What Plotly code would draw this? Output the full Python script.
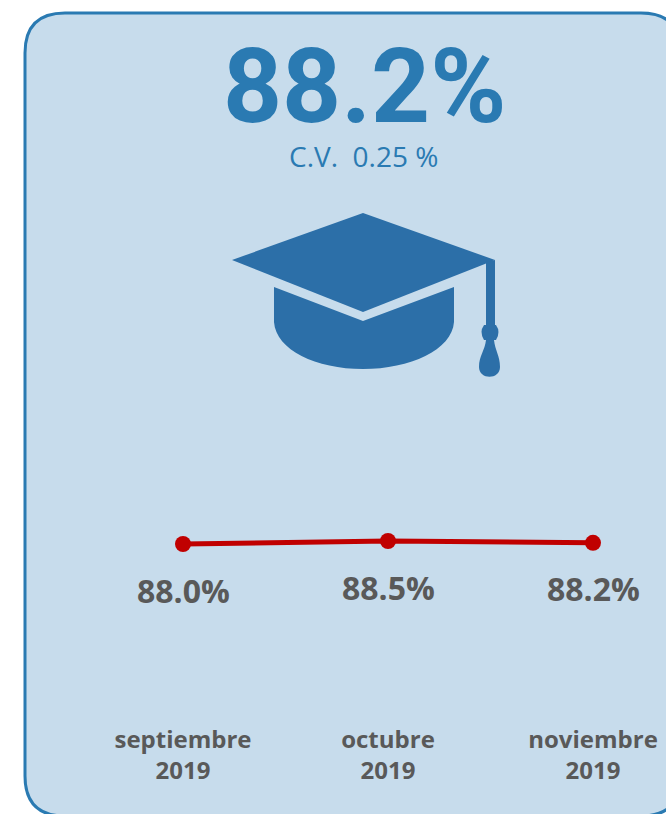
import plotly.graph_objects as go

months = ["septiembre<br>2019", "octubre<br>2019", "noviembre<br>2019"]
rates = [88.0, 88.5, 88.2]
rate_labels = ["88.0%", "88.5%", "88.2%"]
headline = "88.2%"
cv_text = "C.V.  0.25 %"

W, H = 666, 814
BLUE = "#2A7AB2"
ICON = "#2C6FA8"
RED = "#C00000"
GREY = "#595959"
FILL = "#C7DCEC"

def X(p):
    return p / W

def Y(p):
    return 1 - p / H

def path(*cmds):
    out = []
    for c in cmds:
        if isinstance(c, str):
            out.append(c)
        else:
            out.append(f"{X(c[0]):.5f},{Y(c[1]):.5f}")
    return " ".join(out)

# rounded panel
L, T, R, B, r = 25, 13, 681, 816, 40
panel = path("M", (L + r, T), "L", (R - r, T), "Q", (R, T), (R, T + r), "L", (R, B - r),
             "Q", (R, B), (R - r, B), "L", (L + r, B), "Q", (L, B), (L, B - r),
             "L", (L, T + r), "Q", (L, T), (L + r, T), "Z")
cap = path("M", (232, 260), "L", (363, 213), "L", (495, 260), "L", (363, 312), "Z")
body = path("M", (274, 287), "L", (363, 321), "L", (454, 287), "L", (454, 322),
            "C", (452, 350), (410, 369), (363, 369), "C", (316, 369), (276, 350), (274, 322), "Z")
cord = path("M", (486, 262), "L", (495, 260), "L", (495, 326), "L", (486, 326), "Z")
knob = path("M", (484, 325), "L", (496, 325), "Q", (501, 332), (496, 340), "L", (484, 340),
            "Q", (479, 332), (484, 325), "Z")
tassel = path("M", (486, 340), "L", (494, 340), "C", (495, 350), (500, 356), (500, 367),
              "C", (500, 380), (479, 380), (479, 367), "C", (479, 356), (485, 350), (486, 340), "Z")

shapes = [dict(type="path", xref="paper", yref="paper", path=panel, fillcolor=FILL,
               line=dict(color=BLUE, width=3), layer="below")]
for p in (cap, body, cord, knob, tassel):
    shapes.append(dict(type="path", xref="paper", yref="paper", path=p, fillcolor=ICON,
                       line=dict(width=0), layer="below"))

fig = go.Figure(go.Scatter(
    x=months, y=rates, mode="lines+markers",
    line=dict(color=RED, width=5),
    marker=dict(color=RED, size=16),
    hoverinfo="skip", cliponaxis=False,
))

annotations = [
    dict(x=m, y=v, xref="x", yref="y", text=t, showarrow=False, yshift=-46,
         xanchor="center", yanchor="middle",
         font=dict(family="Open Sans", size=32, color=GREY, weight=700))
    for m, v, t in zip(months, rates, rate_labels)
]
annotations += [
    dict(x=X(364), y=Y(86), xref="paper", yref="paper", text=f"<b>{headline}</b>", showarrow=False,
         xanchor="center", yanchor="middle",
         font=dict(family="Roboto", size=103, color=BLUE)),
    dict(x=X(363), y=Y(156), xref="paper", yref="paper", text=cv_text, showarrow=False,
         xanchor="center", yanchor="middle",
         font=dict(family="Open Sans", size=28, color=BLUE, weight=400)),
]

# plot area runs from y=500 to y=723 px, 6 px per unit
fig.update_layout(
    width=W, height=H, margin=dict(l=0, r=0, t=0, b=0),
    paper_bgcolor="white", plot_bgcolor="rgba(0,0,0,0)",
    showlegend=False, shapes=shapes, annotations=annotations,
    xaxis=dict(type="category", range=[-183 / 205, (W - 183) / 205], showgrid=False,
               zeroline=False, showline=False, ticks="",
               tickfont=dict(family="Open Sans", size=24, color=GREY, weight=700),
               fixedrange=True),
    yaxis=dict(domain=[1 - 723 / H, 1 - 500 / H], range=[88 - 179 / 6, 88 + 44 / 6], visible=False, fixedrange=True),
)
fig.write_html("out.html", config=dict(displayModeBar=False),
               post_script="document.body.style.margin='0';document.documentElement.style.overflow='hidden';")
